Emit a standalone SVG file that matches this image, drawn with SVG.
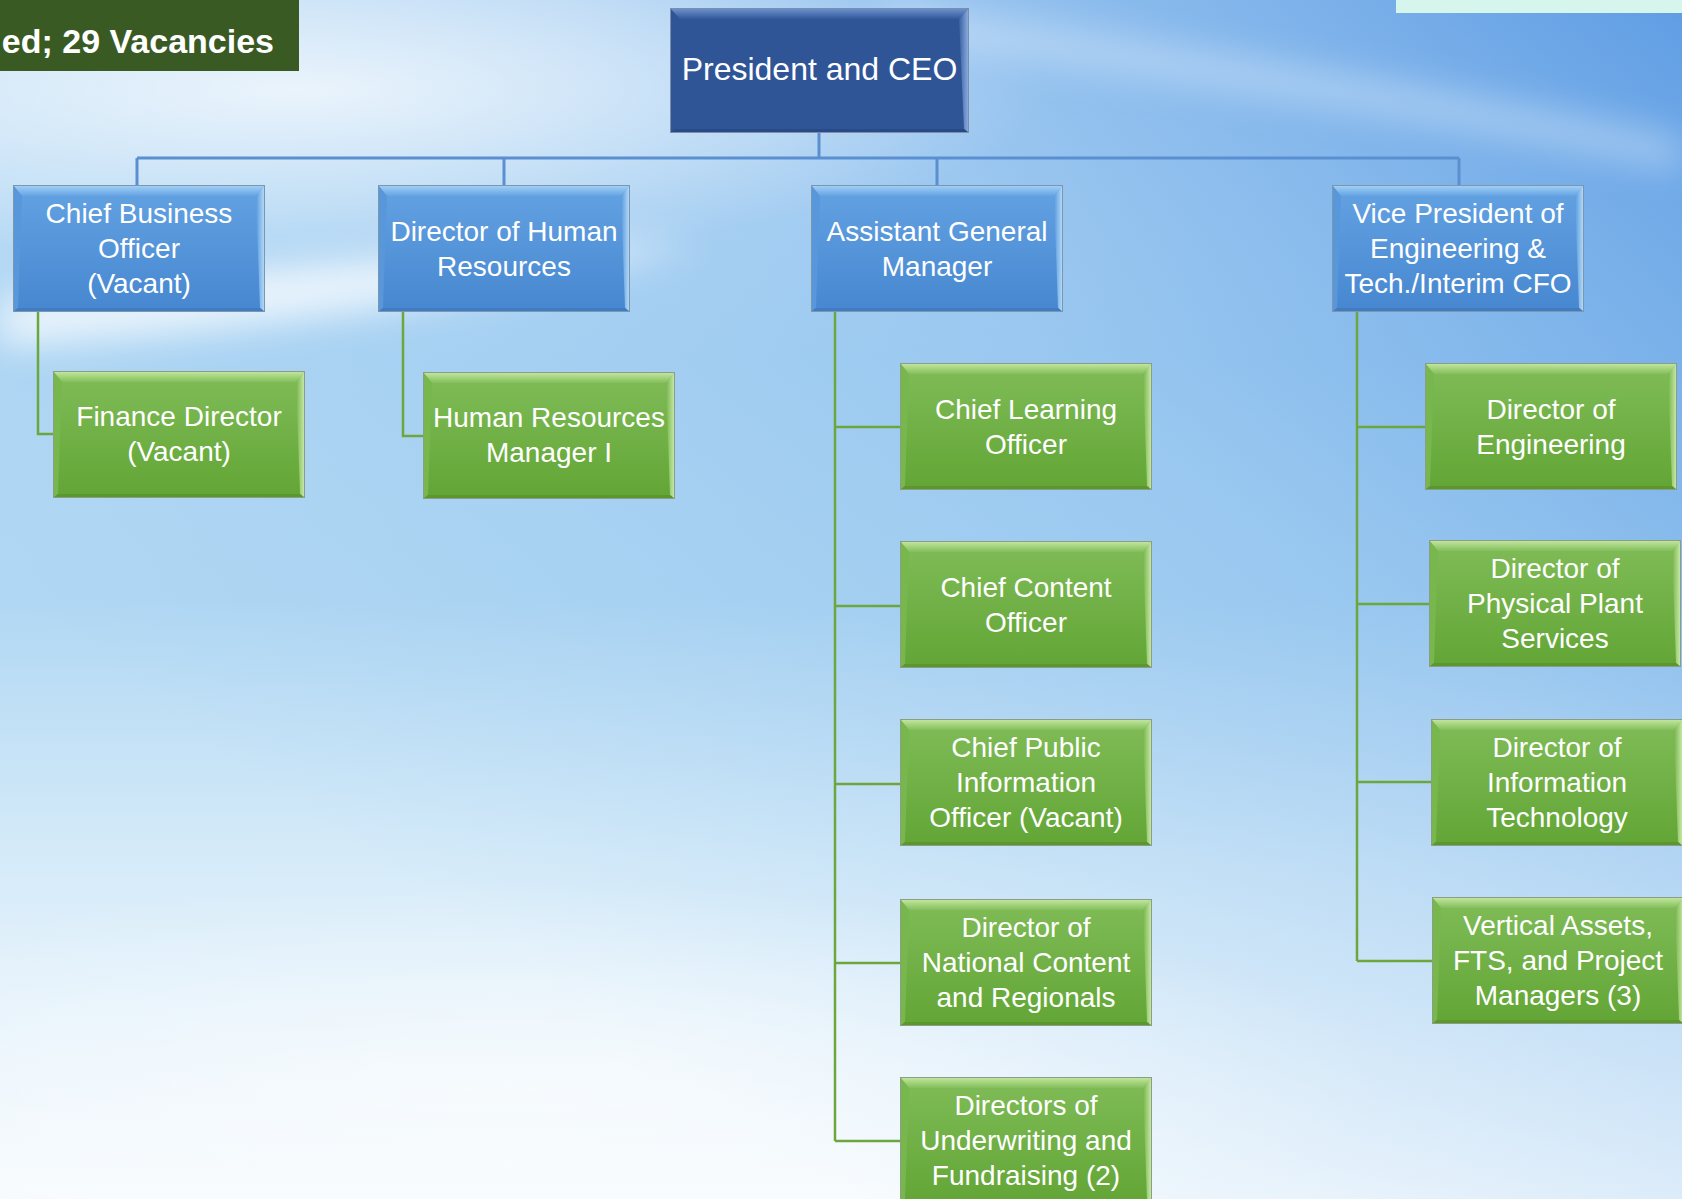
<svg xmlns="http://www.w3.org/2000/svg" xmlns:xlink="http://www.w3.org/1999/xlink" width="1682" height="1199" viewBox="0 0 1682 1199">
<style>
.t{font-family:"Liberation Sans",Arial,sans-serif;font-size:28px;fill:#ffffff;text-anchor:middle}
.ceo{font-size:32px}
.ban{font-family:"Liberation Sans",Arial,sans-serif;font-size:34px;font-weight:bold;fill:#ffffff;text-anchor:end}
.cb{fill:none;stroke:#5a8fd2;stroke-width:3}
.cg{fill:none;stroke:#6ea63e;stroke-width:2.5}
</style>
<defs>
<linearGradient id="bg" x1="0" y1="0" x2="0" y2="1">
<stop offset="0" stop-color="#d3e9f9"/>
<stop offset="0.3" stop-color="#b2d8f4"/>
<stop offset="0.5" stop-color="#b0d7f3"/>
<stop offset="0.72" stop-color="#d6ebf9"/>
<stop offset="1" stop-color="#f7fbfe"/>
</linearGradient>
<linearGradient id="bgR" x1="1" y1="0" x2="0.25" y2="0.75">
<stop offset="0" stop-color="#4a8fe0" stop-opacity="0.85"/>
<stop offset="0.45" stop-color="#6aa8e8" stop-opacity="0.35"/>
<stop offset="1" stop-color="#8cc2ee" stop-opacity="0"/>
</linearGradient>
<radialGradient id="wl" cx="0.5" cy="0.5" r="0.5">
<stop offset="0" stop-color="#ffffff" stop-opacity="0.9"/>
<stop offset="1" stop-color="#ffffff" stop-opacity="0"/>
</radialGradient>
<filter id="blur" x="-20%" y="-50%" width="140%" height="200%"><feGaussianBlur stdDeviation="18"/></filter>
<filter id="blur2" x="-20%" y="-50%" width="140%" height="200%"><feGaussianBlur stdDeviation="6"/></filter>

<linearGradient id="gBody" x1="0" y1="0" x2="0" y2="1">
<stop offset="0" stop-color="#80bc58"/><stop offset="1" stop-color="#62a535"/>
</linearGradient>
<linearGradient id="gTop" x1="0" y1="0" x2="0" y2="1">
<stop offset="0" stop-color="#c6e9a2"/><stop offset="1" stop-color="#83bf5b"/>
</linearGradient>
<linearGradient id="gRight" x1="0" y1="0" x2="1" y2="0">
<stop offset="0" stop-color="#77b44c"/><stop offset="1" stop-color="#cdeeae"/>
</linearGradient>
<linearGradient id="bBody" x1="0" y1="0" x2="0" y2="1">
<stop offset="0" stop-color="#63a2e2"/><stop offset="1" stop-color="#4787d0"/>
</linearGradient>
<linearGradient id="bTop" x1="0" y1="0" x2="0" y2="1">
<stop offset="0" stop-color="#a6d3f8"/><stop offset="1" stop-color="#64a3e3"/>
</linearGradient>
<linearGradient id="bRight" x1="0" y1="0" x2="1" y2="0">
<stop offset="0" stop-color="#5b9ade"/><stop offset="1" stop-color="#b9e0fb"/>
</linearGradient>
<linearGradient id="cTop" x1="0" y1="0" x2="0" y2="1">
<stop offset="0" stop-color="#6f95d2"/><stop offset="1" stop-color="#33599b"/>
</linearGradient>
<linearGradient id="cRight" x1="0" y1="0" x2="1" y2="0">
<stop offset="0" stop-color="#3a60a2"/><stop offset="1" stop-color="#8fb2e4"/>
</linearGradient>

<g id="gbox">
<rect width="252" height="127" fill="url(#gBody)"/>
<polygon points="0,0 252,0 243,11 9,11" fill="url(#gTop)"/>
<polygon points="252,0 252,127 247,123 243,11" fill="url(#gRight)"/>
<polygon points="0,0 9,11 5,123 0,127" fill="#78b74e"/>
<polygon points="0,127 5,123 247,123 252,127" fill="#5a982e"/>
<rect x="0.5" y="0.5" width="251" height="126" fill="none" stroke="#8c9c88" stroke-width="1"/>
</g>
<g id="bbox">
<rect width="252" height="127" fill="url(#bBody)"/>
<polygon points="0,0 252,0 243,11 9,11" fill="url(#bTop)"/>
<polygon points="252,0 252,127 247,123 243,11" fill="url(#bRight)"/>
<polygon points="0,0 9,11 5,123 0,127" fill="#5797da"/>
<polygon points="0,127 5,123 247,123 252,127" fill="#3f7cc4"/>
<rect x="0.5" y="0.5" width="251" height="126" fill="none" stroke="#7f95aa" stroke-width="1"/>
</g>
</defs>

<g id="background">
<rect width="1682" height="1199" fill="url(#bg)"/>
<rect width="1682" height="1199" fill="url(#bgR)"/>
<ellipse cx="300" cy="90" rx="750" ry="170" fill="url(#wl)" opacity="0.8"/>
<path d="M0,300 C200,270 450,250 700,240 C500,300 250,330 0,345 Z" fill="#ffffff" opacity="0.75" filter="url(#blur)"/>
<path d="M880,0 C1100,40 1350,70 1682,140 L1682,170 C1380,110 1120,70 900,40 Z" fill="#dcecfb" opacity="0.5" filter="url(#blur)"/>
<ellipse cx="500" cy="1080" rx="900" ry="200" fill="url(#wl)" opacity="0.6"/>
<rect x="1396" y="0" width="286" height="13" fill="#d6f5ec"/>
</g>

<g id="banner">
<rect x="0" y="0" width="299" height="71" fill="#3a5a24"/>
<text class="ban" x="274" y="53">ed; 29 Vacancies</text>
</g>

<g id="connectors">
<path class="cb" d="M819,133 V158 M137,158 H1459 M137,158 V185 M504,158 V185 M937,158 V185 M1459,158 V185"/>
<path class="cg" d="M38,312 V434 H53"/>
<path class="cg" d="M403,312 V436 H423"/>
<path class="cg" d="M835,312 V1141 M835,427 H900 M835,606 H900 M835,784 H900 M835,963 H900 M835,1141 H900"/>
<path class="cg" d="M1357,312 V961 M1357,427 H1425 M1357,604 H1429 M1357,782 H1431 M1357,961 H1432"/>
</g>

<g id="ceo">
<rect x="670" y="8" width="299" height="125" fill="#2f5597"/>
<polygon points="670,8 969,8 959,19 680,19" fill="url(#cTop)"/>
<polygon points="969,8 969,133 964,129 959,19" fill="url(#cRight)"/>
<polygon points="670,133 675,129 964,129 969,133" fill="#284a86"/>
<rect x="670.5" y="8.5" width="298" height="124" fill="none" stroke="#7f8ea8" stroke-width="1"/>
<text class="t ceo" x="819.5" y="80">President and CEO</text>
</g>

<g id="cbo">
<use xlink:href="#bbox" x="13" y="185"/>
<text class="t"><tspan x="139" y="223">Chief Business</tspan><tspan x="139" y="258">Officer</tspan><tspan x="139" y="293">(Vacant)</tspan></text>
</g>
<g id="dhr">
<use xlink:href="#bbox" x="378" y="185"/>
<text class="t"><tspan x="504" y="241">Director of Human</tspan><tspan x="504" y="276">Resources</tspan></text>
</g>
<g id="agm">
<use xlink:href="#bbox" x="811" y="185"/>
<text class="t"><tspan x="937" y="241">Assistant General</tspan><tspan x="937" y="276">Manager</tspan></text>
</g>
<g id="vp">
<use xlink:href="#bbox" x="1332" y="185"/>
<text class="t"><tspan x="1458" y="223">Vice President of</tspan><tspan x="1458" y="258">Engineering &amp;</tspan><tspan x="1458" y="293">Tech./Interim CFO</tspan></text>
</g>

<g id="fd">
<use xlink:href="#gbox" x="53" y="371"/>
<text class="t"><tspan x="179" y="426">Finance Director</tspan><tspan x="179" y="461">(Vacant)</tspan></text>
</g>
<g id="hrm">
<use xlink:href="#gbox" x="423" y="372"/>
<text class="t"><tspan x="549" y="427">Human Resources</tspan><tspan x="549" y="462">Manager I</tspan></text>
</g>

<g id="clo">
<use xlink:href="#gbox" x="900" y="363"/>
<text class="t"><tspan x="1026" y="419">Chief Learning</tspan><tspan x="1026" y="454">Officer</tspan></text>
</g>
<g id="cco">
<use xlink:href="#gbox" x="900" y="541"/>
<text class="t"><tspan x="1026" y="597">Chief Content</tspan><tspan x="1026" y="632">Officer</tspan></text>
</g>
<g id="cpio">
<use xlink:href="#gbox" x="900" y="719"/>
<text class="t"><tspan x="1026" y="757">Chief Public</tspan><tspan x="1026" y="792">Information</tspan><tspan x="1026" y="827">Officer (Vacant)</tspan></text>
</g>
<g id="dnc">
<use xlink:href="#gbox" x="900" y="899"/>
<text class="t"><tspan x="1026" y="937">Director of</tspan><tspan x="1026" y="972">National Content</tspan><tspan x="1026" y="1007">and Regionals</tspan></text>
</g>
<g id="duf">
<use xlink:href="#gbox" x="900" y="1077"/>
<text class="t"><tspan x="1026" y="1115">Directors of</tspan><tspan x="1026" y="1150">Underwriting and</tspan><tspan x="1026" y="1185">Fundraising (2)</tspan></text>
</g>

<g id="de">
<use xlink:href="#gbox" x="1425" y="363"/>
<text class="t"><tspan x="1551" y="419">Director of</tspan><tspan x="1551" y="454">Engineering</tspan></text>
</g>
<g id="dpp">
<use xlink:href="#gbox" x="1429" y="540"/>
<text class="t"><tspan x="1555" y="578">Director of</tspan><tspan x="1555" y="613">Physical Plant</tspan><tspan x="1555" y="648">Services</tspan></text>
</g>
<g id="dit">
<use xlink:href="#gbox" x="1431" y="719"/>
<text class="t"><tspan x="1557" y="757">Director of</tspan><tspan x="1557" y="792">Information</tspan><tspan x="1557" y="827">Technology</tspan></text>
</g>
<g id="va">
<use xlink:href="#gbox" x="1432" y="897"/>
<text class="t"><tspan x="1558" y="935">Vertical Assets,</tspan><tspan x="1558" y="970">FTS, and Project</tspan><tspan x="1558" y="1005">Managers (3)</tspan></text>
</g>
</svg>
